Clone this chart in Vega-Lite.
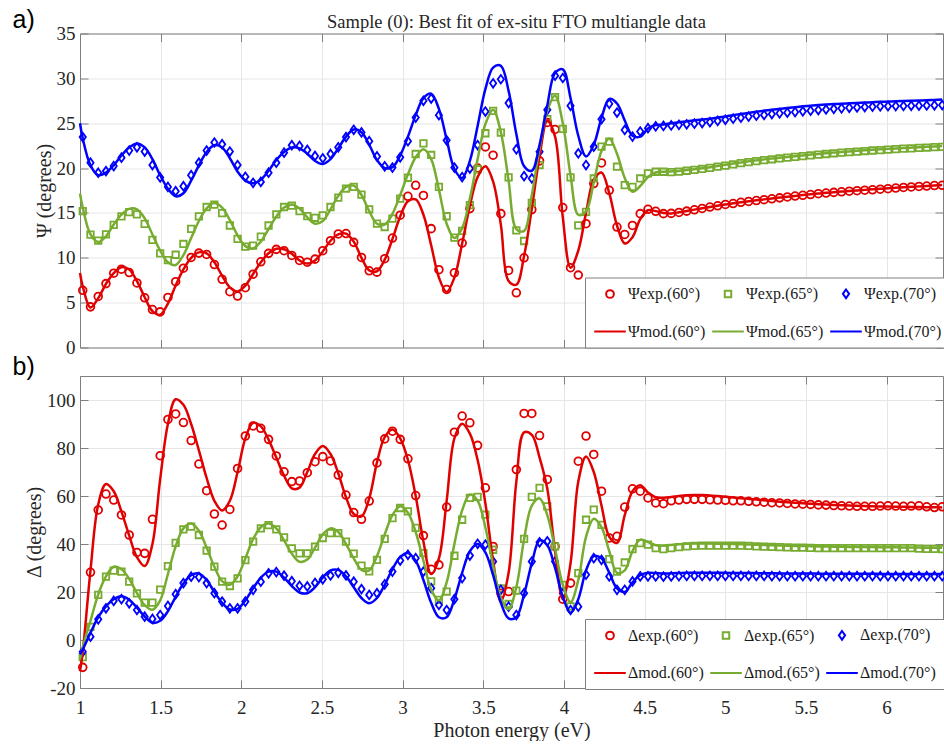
{
"$schema": "https://vega.github.io/schema/vega-lite/v6.json",
"autosize": {"type": "pad"},
"padding": {"left": 12, "top": 7.5, "right": 0, "bottom": 0},
"background": "white",
"datasets": {"d": [
{"E":1.0,"pm60":8.3,"pm65":17.15,"pm70":25.0,"dm60":-13,"dm65":-8,"dm70":-6},
{"E":1.017,"pe60":6.37,"pe65":15.21,"pe70":23.45,"pm60":6.8,"pm65":15.6,"pm70":23.3,"de60":-11.4,"de65":-7.1,"de70":-4.9,"dm60":-5,"dm65":-3,"dm70":-4},
{"E":1.065,"pe60":4.53,"pe65":12.58,"pe70":20.6,"pm60":4.45,"pm65":12.6,"pm70":20.3,"de60":28.2,"de65":5.5,"de70":1.4,"dm60":29,"dm65":8,"dm70":3},
{"E":1.113,"pe60":5.69,"pe65":11.91,"pe70":19.48,"pm60":5.5,"pm65":11.75,"pm70":19.2,"de60":54.2,"de65":18.8,"de70":8.6,"dm60":56.5,"dm65":19,"dm70":9.5},
{"E":1.161,"pe60":7.12,"pe65":12.62,"pe70":19.66,"pm60":7.1,"pm65":12.4,"pm70":19.5,"de60":60.8,"de65":26.4,"de70":13.2,"dm60":65,"dm65":26.5,"dm70":14},
{"E":1.209,"pe60":8.28,"pe65":13.67,"pe70":20.22,"pm60":8.3,"pm65":13.7,"pm70":20.3,"de60":58.3,"de65":28.9,"de70":16.3,"dm60":62,"dm65":30.5,"dm70":17},
{"E":1.257,"pe60":8.73,"pe65":14.61,"pe70":21.16,"pm60":8.95,"pm65":14.8,"pm70":21.4,"de60":52.1,"de65":28.5,"de70":17.0,"dm60":53.5,"dm65":29.5,"dm70":18.2},
{"E":1.305,"pe60":8.35,"pe65":15.09,"pe70":21.95,"pm60":8.7,"pm65":15.45,"pm70":22.3,"de60":43.75,"de65":24.3,"de70":15.3,"dm60":43.5,"dm65":25.5,"dm70":16.8},
{"E":1.353,"pe60":7.19,"pe65":14.83,"pe70":22.32,"pm60":7.4,"pm65":15.4,"pm70":22.75,"de60":36.5,"de65":19.4,"de70":12.5,"dm60":34.5,"dm65":19.5,"dm70":13.5},
{"E":1.401,"pe60":5.54,"pe65":13.78,"pe70":21.84,"pm60":5.6,"pm65":14.4,"pm70":22.3,"de60":36.1,"de65":15.6,"de70":9.7,"dm60":30.8,"dm65":14.5,"dm70":9.8},
{"E":1.449,"pe60":4.23,"pe65":11.99,"pe70":20.34,"pm60":4.05,"pm65":12.6,"pm70":21.0,"de60":50.3,"de65":15.6,"de70":8.8,"dm60":40,"dm65":12.6,"dm70":7.2},
{"E":1.497,"pe60":3.97,"pe65":10.49,"pe70":18.95,"pm60":3.65,"pm65":10.8,"pm70":19.2,"de60":76.8,"de65":21.0,"de70":10.4,"dm60":67,"dm65":16.5,"dm70":8},
{"E":1.545,"pe60":5.58,"pe65":9.74,"pe70":17.9,"pm60":4.9,"pm65":9.5,"pm70":17.7,"de60":91.9,"de65":30.8,"de70":14.2,"dm60":90,"dm65":27.5,"dm70":12},
{"E":1.593,"pe60":7.34,"pe65":10.34,"pe70":17.42,"pm60":6.9,"pm65":9.2,"pm70":16.85,"de60":94.2,"de65":40.5,"de70":19.1,"dm60":100.3,"dm65":39,"dm70":18},
{"E":1.641,"pe60":8.84,"pe65":11.54,"pe70":17.98,"pm60":8.7,"pm65":10.3,"pm70":17.2,"de60":90.6,"de65":46.1,"de70":23.7,"dm60":98,"dm65":46.5,"dm70":23.5},
{"E":1.689,"pe60":10.04,"pe65":13.22,"pe70":19.21,"pm60":10.0,"pm65":12.2,"pm70":18.6,"de60":83.1,"de65":47.2,"de70":26.4,"dm60":90,"dm65":48.5,"dm70":27},
{"E":1.737,"pe60":10.52,"pe65":14.61,"pe70":20.6,"pm60":10.6,"pm65":14.1,"pm70":20.3,"de60":73.3,"de65":43.75,"de70":26.2,"dm60":79,"dm65":45.5,"dm70":27.7},
{"E":1.785,"pe60":10.37,"pe65":15.66,"pe70":21.95,"pm60":10.5,"pm65":15.5,"pm70":21.8,"de60":62.2,"de65":37.2,"de70":23.7,"dm60":67.5,"dm65":38.5,"dm70":25},
{"E":1.833,"pe60":9.25,"pe65":15.92,"pe70":22.85,"pm60":9.5,"pm65":16.1,"pm70":22.55,"de60":52.5,"de65":30.6,"de70":19.5,"dm60":58,"dm65":30.5,"dm70":20},
{"E":1.881,"pe60":7.6,"pe65":14.98,"pe70":22.66,"pm60":8.0,"pm65":15.6,"pm70":22.3,"de60":47.9,"de65":24.3,"de70":16.0,"dm60":54,"dm65":24.5,"dm70":15.5},
{"E":1.929,"pe60":6.22,"pe65":13.6,"pe70":21.84,"pm60":6.7,"pm65":14.2,"pm70":21.1,"de60":54.4,"de65":22.5,"de70":13.2,"dm60":58,"dm65":23,"dm70":12.7},
{"E":1.977,"pe60":5.73,"pe65":12.1,"pe70":20.34,"pm60":6.25,"pm65":12.5,"pm70":19.6,"de60":71.5,"de65":25.7,"de70":13.2,"dm60":70,"dm65":26.5,"dm70":13},
{"E":2.025,"pe60":6.67,"pe65":11.24,"pe70":19.03,"pm60":6.9,"pm65":11.3,"pm70":18.6,"de60":85.0,"de65":33.3,"de70":16.0,"dm60":84,"dm65":34,"dm70":16.5},
{"E":2.073,"pe60":8.17,"pe65":11.35,"pe70":18.35,"pm60":8.2,"pm65":11.05,"pm70":18.3,"de60":89.2,"de65":41.0,"de70":20.9,"dm60":90.5,"dm65":42,"dm70":21.5},
{"E":2.121,"pe60":9.55,"pe65":12.36,"pe70":18.46,"pm60":9.5,"pm65":11.8,"pm70":18.7,"de60":88.2,"de65":46.5,"de70":24.3,"dm60":89,"dm65":47,"dm70":26},
{"E":2.169,"pe60":10.49,"pe65":13.6,"pe70":19.48,"pm60":10.5,"pm65":13.2,"pm70":19.7,"de60":83.6,"de65":47.9,"de70":27.8,"dm60":83.5,"dm65":48.5,"dm70":28.5},
{"E":2.217,"pe60":10.94,"pe65":14.83,"pe70":20.6,"pm60":11.0,"pm65":14.6,"pm70":20.9,"de60":76.7,"de65":46.1,"de70":28.3,"dm60":76,"dm65":46.5,"dm70":28.5},
{"E":2.265,"pe60":10.79,"pe65":15.66,"pe70":21.72,"pm60":10.95,"pm65":15.6,"pm70":21.8,"de60":70.1,"de65":42.8,"de70":26.8,"dm60":68.5,"dm65":41.5,"dm70":26},
{"E":2.313,"pe60":10.26,"pe65":15.81,"pe70":22.55,"pm60":10.45,"pm65":15.95,"pm70":22.3,"de60":66.0,"de65":38.2,"de70":24.5,"dm60":63.2,"dm65":36,"dm70":22.5},
{"E":2.361,"pe60":9.7,"pe65":15.21,"pe70":22.47,"pm60":9.7,"pm65":15.5,"pm70":22.2,"de60":66.25,"de65":36.1,"de70":22.6,"dm60":63.5,"dm65":32.6,"dm70":19.8},
{"E":2.409,"pe60":9.51,"pe65":14.64,"pe70":22.02,"pm60":9.35,"pm65":14.5,"pm70":21.6,"de60":69.7,"de65":36.1,"de70":22.3,"dm60":70,"dm65":33.5,"dm70":19.5},
{"E":2.457,"pe60":9.85,"pe65":14.46,"pe70":21.35,"pm60":9.7,"pm65":13.8,"pm70":20.8,"de60":74.3,"de65":38.9,"de70":23.8,"dm60":77.5,"dm65":38.5,"dm70":22},
{"E":2.505,"pe60":10.79,"pe65":14.72,"pe70":21.09,"pm60":10.7,"pm65":14.1,"pm70":20.45,"de60":76.4,"de65":42.5,"de70":25.3,"dm60":80.8,"dm65":44,"dm70":26},
{"E":2.553,"pe60":11.91,"pe65":15.66,"pe70":21.57,"pm60":11.9,"pm65":15.4,"pm70":21.0,"de60":74.6,"de65":44.5,"de70":26.9,"dm60":77.5,"dm65":46.5,"dm70":29},
{"E":2.601,"pe60":12.66,"pe65":16.7,"pe70":22.32,"pm60":12.6,"pm65":16.9,"pm70":22.2,"de60":68.75,"de65":44.5,"de70":28.0,"dm60":69.5,"dm65":45,"dm70":29.2},
{"E":2.649,"pe60":12.7,"pe65":17.72,"pe70":23.45,"pm60":12.7,"pm65":17.9,"pm70":23.5,"de60":60.4,"de65":41.0,"de70":26.9,"dm60":59.5,"dm65":40,"dm70":26.5},
{"E":2.697,"pe60":11.72,"pe65":17.9,"pe70":24.27,"pm60":11.8,"pm65":18.05,"pm70":24.3,"de60":53.1,"de65":36.0,"de70":24.3,"dm60":52.5,"dm65":34,"dm70":22},
{"E":2.745,"pe60":10.04,"pe65":17.04,"pe70":23.97,"pm60":10.0,"pm65":17.0,"pm70":24.0,"de60":50.3,"de65":31.0,"de70":21.2,"dm60":51.5,"dm65":29.2,"dm70":17.5},
{"E":2.793,"pe60":8.55,"pe65":15.4,"pe70":23.0,"pm60":8.6,"pm65":15.2,"pm70":22.6,"de60":57.9,"de65":28.55,"de70":18.8,"dm60":59,"dm65":29,"dm70":15.3},
{"E":2.841,"pe60":8.4,"pe65":13.81,"pe70":21.3,"pm60":8.5,"pm65":13.8,"pm70":20.9,"de60":73.8,"de65":33.4,"de70":19.5,"dm60":74,"dm65":35,"dm70":17.5},
{"E":2.889,"pe60":9.9,"pe65":13.43,"pe70":20.2,"pm60":9.8,"pm65":13.7,"pm70":20.0,"de60":83.8,"de65":42.1,"de70":23.2,"dm60":84.5,"dm65":44,"dm70":23},
{"E":2.937,"pe60":12.2,"pe65":14.37,"pe70":20.05,"pm60":12.1,"pm65":14.9,"pm70":20.1,"de60":87.0,"de65":50.8,"de70":28.5,"dm60":87.7,"dm65":52,"dm70":29.5},
{"E":2.985,"pe60":14.75,"pe65":16.6,"pe70":21.2,"pm60":14.6,"pm65":17.0,"pm70":21.4,"de60":83.6,"de65":55.0,"de70":33.1,"dm60":84,"dm65":55.7,"dm70":34.5},
{"E":3.033,"pe60":16.85,"pe65":18.92,"pe70":23.0,"pm60":16.3,"pm65":19.3,"pm70":23.5,"de60":75.5,"de65":53.6,"de70":35.5,"dm60":75,"dm65":53,"dm70":36.2},
{"E":3.081,"pe60":18.08,"pe65":21.57,"pe70":25.63,"pm60":16.5,"pm65":21.2,"pm70":25.9,"de60":60.2,"de65":46.7,"de70":34.1,"dm60":60,"dm65":45,"dm70":33},
{"E":3.129,"pe60":16.95,"pe65":22.76,"pe70":27.5,"pm60":14.8,"pm65":22.1,"pm70":27.8,"de60":43.5,"de65":36.2,"de70":28.5,"dm60":41,"dm65":33,"dm70":25},
{"E":3.177,"pe60":13.25,"pe65":21.46,"pe70":27.75,"pm60":11.4,"pm65":21.0,"pm70":28.3,"de60":29.5,"de65":24.4,"de70":21.6,"dm60":27.5,"dm65":21,"dm70":15.5},
{"E":3.225,"pe60":8.67,"pe65":17.91,"pe70":25.9,"pm60":7.8,"pm65":17.6,"pm70":26.6,"de60":31.3,"de65":16.7,"de70":14.6,"dm60":34,"dm65":16.5,"dm70":9.5},
{"E":3.273,"pe60":6.47,"pe65":14.63,"pe70":23.1,"pm60":6.2,"pm65":13.8,"pm70":23.2,"de60":55.4,"de65":20.2,"de70":12.5,"dm60":58,"dm65":24,"dm70":9.5},
{"E":3.321,"pe60":8.33,"pe65":12.24,"pe70":20.05,"pm60":7.8,"pm65":12.2,"pm70":19.9,"de60":86.6,"de65":35.1,"de70":17.0,"dm60":84,"dm65":40,"dm70":17},
{"E":3.369,"pe60":11.64,"pe65":12.99,"pe70":19.0,"pm60":11.6,"pm65":13.3,"pm70":18.9,"de60":93.3,"de65":50.1,"de70":25.8,"dm60":90.1,"dm65":54,"dm70":28},
{"E":3.417,"pe60":15.48,"pe65":15.86,"pe70":19.95,"pm60":15.8,"pm65":16.6,"pm70":20.8,"de60":90.5,"de65":59.2,"de70":35.2,"dm60":86,"dm65":60.6,"dm70":37},
{"E":3.465,"pe60":20.0,"pe65":19.85,"pe70":22.57,"pm60":19.0,"pm65":21.0,"pm70":24.7,"de60":81.1,"de65":59.6,"de70":40.1,"dm60":75,"dm65":58,"dm70":40},
{"E":3.513,"pe60":22.36,"pe65":23.88,"pe70":26.3,"pm60":20.2,"pm65":24.9,"pm70":28.8,"de60":63.4,"de65":52.2,"de70":39.7,"dm60":57,"dm65":47,"dm70":36.5},
{"E":3.561,"pe60":21.43,"pe65":26.38,"pe70":29.45,"pm60":18.5,"pm65":26.5,"pm70":31.2,"de60":39.0,"de65":37.6,"de70":32.7,"dm60":33,"dm65":31,"dm70":27},
{"E":3.609,"pe60":14.92,"pe65":23.96,"pe70":29.9,"pm60":13.7,"pm65":24.0,"pm70":31.4,"de60":19.5,"de65":21.5,"de70":20.9,"dm60":16,"dm65":17.5,"dm70":15.5},
{"E":3.657,"pe60":8.59,"pe65":18.96,"pe70":27.24,"pm60":7.4,"pm65":18.6,"pm70":28.6,"de60":20.2,"de65":15.0,"de70":13.9,"dm60":28,"dm65":12.8,"dm70":9},
{"E":3.705,"pe60":6.1,"pe65":13.06,"pe70":22.09,"pm60":7.0,"pm65":13.2,"pm70":23.8,"de60":71.0,"de65":20.6,"de70":10.4,"dm60":66,"dm65":22,"dm70":9.5},
{"E":3.753,"pe60":10.0,"pe65":11.87,"pe70":19.1,"pm60":10.2,"pm65":13.0,"pm70":20.2,"de60":94.4,"de65":42.1,"de70":19.5,"dm60":86.5,"dm65":42,"dm70":19},
{"E":3.801,"pe60":15.37,"pe65":16.12,"pe70":18.84,"pm60":15.5,"pm65":17.0,"pm70":19.7,"de60":94.4,"de65":59.6,"de70":32.7,"dm60":85.5,"dm65":56,"dm70":32},
{"E":3.849,"pe60":20.8,"pe65":20.34,"pe70":21.83,"pm60":21.3,"pm65":22.2,"pm70":22.6,"de60":85.2,"de65":63.4,"de70":40.7,"dm60":76,"dm65":59,"dm70":41.5},
{"E":3.897,"pe60":25.08,"pe65":25.45,"pe70":26.5,"pm60":25.3,"pm65":26.4,"pm70":27.0,"de60":66.9,"de65":55.7,"de70":41.1,"dm60":63,"dm65":52,"dm70":39.5},
{"E":3.945,"pe60":24.3,"pe65":27.91,"pe70":30.3,"pm60":23.5,"pm65":28.05,"pm70":30.6,"de60":39.0,"de65":39.0,"de70":32.7,"dm60":37,"dm65":38,"dm70":30},
{"E":3.993,"pe60":15.6,"pe65":24.37,"pe70":30.04,"pm60":14.5,"pm65":25.0,"pm70":31.0,"de60":17.0,"de65":23.0,"de70":19.5,"dm60":17,"dm65":23,"dm70":18},
{"E":4.041,"pe60":8.9,"pe65":18.96,"pe70":26.94,"pm60":8.9,"pm65":19.2,"pm70":27.8,"de60":23.7,"de65":14.0,"de70":12.5,"dm60":32,"dm65":15.8,"dm70":11.4},
{"E":4.089,"pe60":8.07,"pe65":13.62,"pe70":21.64,"pm60":10.8,"pm65":14.8,"pm70":23.6,"de60":74.5,"de65":27.9,"de70":13.9,"dm60":66,"dm65":25,"dm70":17},
{"E":4.137,"pe60":13.8,"pe65":15.11,"pe70":20.34,"pm60":15.0,"pm65":15.2,"pm70":21.3,"de60":85.0,"de65":50.1,"de70":27.2,"dm60":76.5,"dm65":43,"dm70":29},
{"E":4.185,"pe60":18.27,"pe65":18.84,"pe70":22.39,"pm60":18.7,"pm65":18.4,"pm70":22.6,"de60":77.3,"de65":54.3,"de70":34.1,"dm60":70,"dm65":50.5,"dm70":35},
{"E":4.233,"pe60":20.57,"pe65":22.39,"pe70":25.45,"pm60":19.5,"pm65":21.9,"pm70":25.6,"de60":62.0,"de65":48.0,"de70":33.4,"dm60":56,"dm65":47,"dm70":34},
{"E":4.281,"pe60":17.52,"pe65":22.95,"pe70":27.16,"pm60":17.2,"pm65":23.3,"pm70":27.7,"de60":42.5,"de65":33.7,"de70":26.5,"dm60":43,"dm65":37,"dm70":28},
{"E":4.329,"pe60":13.43,"pe65":20.15,"pe70":26.19,"pm60":13.6,"pm65":21.6,"pm70":27.2,"de60":43.2,"de65":28.5,"de70":20.9,"dm60":40.5,"dm65":28,"dm70":21.5},
{"E":4.377,"pe60":12.6,"pe65":18.1,"pe70":24.25,"pm60":11.6,"pm65":18.9,"pm70":25.3,"de60":55.4,"de65":32.3,"de70":20.9,"dm60":52,"dm65":29,"dm70":20},
{"E":4.425,"pe60":13.6,"pe65":17.91,"pe70":23.51,"pm60":12.3,"pm65":17.35,"pm70":23.6,"de60":63.0,"de65":37.9,"de70":24.4,"dm60":62,"dm65":37,"dm70":24},
{"E":4.473,"pe60":14.92,"pe65":18.84,"pe70":24.07,"pm60":14.3,"pm65":18.0,"pm70":23.5,"de60":62.0,"de65":40.4,"de70":26.5,"dm60":64.5,"dm65":41.8,"dm70":27},
{"E":4.521,"pe60":15.4,"pe65":19.4,"pe70":24.45,"pm60":15.3,"pm65":19.0,"pm70":24.4,"de60":59.2,"de65":39.7,"de70":26.5,"dm60":61.5,"dm65":40.8,"dm70":28},
{"E":4.569,"pe60":15.18,"pe65":19.59,"pe70":24.65,"pm60":15.2,"pm65":19.5,"pm70":24.8,"de60":57.1,"de65":38.3,"de70":26.5,"dm60":59.5,"dm65":39.5,"dm70":27.9},
{"E":4.617,"pe60":14.92,"pe65":19.59,"pe70":24.7,"pm60":15.0,"pm65":19.6,"pm70":24.85,"de60":56.8,"de65":37.9,"de70":26.4,"dm60":59.3,"dm65":39.4,"dm70":27.7},
{"E":4.665,"pe60":14.95,"pe65":19.55,"pe70":24.75,"pm60":14.95,"pm65":19.63,"pm70":25.0,"de60":58.0,"de65":38.3,"de70":26.5,"dm60":59.6,"dm65":39.6,"dm70":27.8},
{"E":4.713,"pe60":15.05,"pe65":19.6,"pe70":24.82,"pm60":15.07,"pm65":19.68,"pm70":25.1,"de60":58.3,"de65":38.7,"de70":26.6,"dm60":60.0,"dm65":39.9,"dm70":27.9},
{"E":4.761,"pe60":15.2,"pe65":19.7,"pe70":24.88,"pm60":15.22,"pm65":19.78,"pm70":25.22,"de60":58.6,"de65":39.0,"de70":26.7,"dm60":60.3,"dm65":40.1,"dm70":28.0},
{"E":4.809,"pe60":15.35,"pe65":19.8,"pe70":24.95,"pm60":15.37,"pm65":19.88,"pm70":25.33,"de60":58.6,"de65":39.2,"de70":26.7,"dm60":60.4,"dm65":40.2,"dm70":28.0},
{"E":4.857,"pe60":15.5,"pe65":19.9,"pe70":25.02,"pm60":15.52,"pm65":19.98,"pm70":25.42,"de60":58.6,"de65":39.3,"de70":26.7,"dm60":60.4,"dm65":40.2,"dm70":28.0},
{"E":4.905,"pe60":15.65,"pe65":20.02,"pe70":25.12,"pm60":15.67,"pm65":20.1,"pm70":25.5,"de60":58.4,"de65":39.3,"de70":26.7,"dm60":60.2,"dm65":40.2,"dm70":28.0},
{"E":4.953,"pe60":15.8,"pe65":20.15,"pe70":25.25,"pm60":15.81,"pm65":20.23,"pm70":25.63,"de60":58.3,"de65":39.3,"de70":26.7,"dm60":60.0,"dm65":40.1,"dm70":28.0},
{"E":5.001,"pe60":15.95,"pe65":20.28,"pe70":25.38,"pm60":15.95,"pm65":20.36,"pm70":25.76,"de60":58.2,"de65":39.3,"de70":26.7,"dm60":59.7,"dm65":40.0,"dm70":28.0},
{"E":5.049,"pe60":16.05,"pe65":20.42,"pe70":25.5,"pm60":16.07,"pm65":20.5,"pm70":25.9,"de60":58.0,"de65":39.3,"de70":26.7,"dm60":59.4,"dm65":40.0,"dm70":27.95},
{"E":5.097,"pe60":16.18,"pe65":20.55,"pe70":25.62,"pm60":16.19,"pm65":20.63,"pm70":26.03,"de60":58.0,"de65":39.3,"de70":26.7,"dm60":59.1,"dm65":39.9,"dm70":27.9},
{"E":5.145,"pe60":16.28,"pe65":20.67,"pe70":25.74,"pm60":16.3,"pm65":20.75,"pm70":26.15,"de60":57.8,"de65":39.2,"de70":26.7,"dm60":58.8,"dm65":39.8,"dm70":27.9},
{"E":5.193,"pe60":16.38,"pe65":20.78,"pe70":25.84,"pm60":16.41,"pm65":20.86,"pm70":26.27,"de60":57.6,"de65":39.0,"de70":26.7,"dm60":58.5,"dm65":39.7,"dm70":27.85},
{"E":5.241,"pe60":16.48,"pe65":20.89,"pe70":25.92,"pm60":16.51,"pm65":20.97,"pm70":26.38,"de60":57.4,"de65":38.9,"de70":26.7,"dm60":58.2,"dm65":39.6,"dm70":27.8},
{"E":5.289,"pe60":16.58,"pe65":20.98,"pe70":26.02,"pm60":16.61,"pm65":21.06,"pm70":26.5,"de60":57.2,"de65":38.8,"de70":26.6,"dm60":57.9,"dm65":39.5,"dm70":27.8},
{"E":5.337,"pe60":16.68,"pe65":21.07,"pe70":26.1,"pm60":16.71,"pm65":21.15,"pm70":26.6,"de60":57.1,"de65":38.7,"de70":26.6,"dm60":57.6,"dm65":39.4,"dm70":27.75},
{"E":5.385,"pe60":16.78,"pe65":21.16,"pe70":26.18,"pm60":16.81,"pm65":21.24,"pm70":26.7,"de60":56.9,"de65":38.6,"de70":26.6,"dm60":57.4,"dm65":39.3,"dm70":27.75},
{"E":5.433,"pe60":16.88,"pe65":21.25,"pe70":26.24,"pm60":16.9,"pm65":21.33,"pm70":26.79,"de60":56.7,"de65":38.5,"de70":26.6,"dm60":57.2,"dm65":39.2,"dm70":27.7},
{"E":5.481,"pe60":16.97,"pe65":21.33,"pe70":26.32,"pm60":16.99,"pm65":21.41,"pm70":26.88,"de60":56.6,"de65":38.5,"de70":26.6,"dm60":57.0,"dm65":39.2,"dm70":27.7},
{"E":5.529,"pe60":17.05,"pe65":21.42,"pe70":26.4,"pm60":17.08,"pm65":21.5,"pm70":26.96,"de60":56.5,"de65":38.4,"de70":26.6,"dm60":56.8,"dm65":39.1,"dm70":27.7},
{"E":5.577,"pe60":17.14,"pe65":21.5,"pe70":26.47,"pm60":17.16,"pm65":21.58,"pm70":27.02,"de60":56.3,"de65":38.3,"de70":26.6,"dm60":56.6,"dm65":39.0,"dm70":27.65},
{"E":5.625,"pe60":17.22,"pe65":21.57,"pe70":26.53,"pm60":17.24,"pm65":21.65,"pm70":27.08,"de60":56.2,"de65":38.3,"de70":26.6,"dm60":56.45,"dm65":39.0,"dm70":27.65},
{"E":5.673,"pe60":17.29,"pe65":21.65,"pe70":26.6,"pm60":17.31,"pm65":21.73,"pm70":27.13,"de60":56.0,"de65":38.3,"de70":26.6,"dm60":56.3,"dm65":38.9,"dm70":27.65},
{"E":5.721,"pe60":17.35,"pe65":21.72,"pe70":26.66,"pm60":17.38,"pm65":21.8,"pm70":27.18,"de60":55.9,"de65":38.3,"de70":26.6,"dm60":56.15,"dm65":38.9,"dm70":27.6},
{"E":5.769,"pe60":17.42,"pe65":21.78,"pe70":26.72,"pm60":17.45,"pm65":21.86,"pm70":27.22,"de60":55.8,"de65":38.3,"de70":26.6,"dm60":56.0,"dm65":38.8,"dm70":27.6},
{"E":5.817,"pe60":17.48,"pe65":21.84,"pe70":26.76,"pm60":17.51,"pm65":21.92,"pm70":27.26,"de60":55.7,"de65":38.3,"de70":26.6,"dm60":55.9,"dm65":38.8,"dm70":27.6},
{"E":5.865,"pe60":17.53,"pe65":21.9,"pe70":26.8,"pm60":17.57,"pm65":21.98,"pm70":27.3,"de60":55.7,"de65":38.3,"de70":26.6,"dm60":55.8,"dm65":38.7,"dm70":27.6},
{"E":5.913,"pe60":17.58,"pe65":21.96,"pe70":26.84,"pm60":17.63,"pm65":22.04,"pm70":27.34,"de60":55.7,"de65":38.3,"de70":26.6,"dm60":55.7,"dm65":38.7,"dm70":27.6},
{"E":5.961,"pe60":17.64,"pe65":22.01,"pe70":26.88,"pm60":17.69,"pm65":22.09,"pm70":27.38,"de60":55.8,"de65":38.3,"de70":26.6,"dm60":55.65,"dm65":38.6,"dm70":27.55},
{"E":6.009,"pe60":17.7,"pe65":22.06,"pe70":26.9,"pm60":17.74,"pm65":22.14,"pm70":27.41,"de60":55.9,"de65":38.3,"de70":26.6,"dm60":55.6,"dm65":38.6,"dm70":27.55},
{"E":6.057,"pe60":17.77,"pe65":22.11,"pe70":26.91,"pm60":17.8,"pm65":22.19,"pm70":27.44,"de60":55.8,"de65":38.3,"de70":26.6,"dm60":55.55,"dm65":38.6,"dm70":27.55},
{"E":6.105,"pe60":17.84,"pe65":22.16,"pe70":26.92,"pm60":17.86,"pm65":22.24,"pm70":27.47,"de60":55.7,"de65":38.3,"de70":26.6,"dm60":55.5,"dm65":38.5,"dm70":27.55},
{"E":6.153,"pe60":17.9,"pe65":22.2,"pe70":26.94,"pm60":17.91,"pm65":22.28,"pm70":27.5,"de60":55.8,"de65":38.3,"de70":26.6,"dm60":55.45,"dm65":38.5,"dm70":27.5},
{"E":6.201,"pe60":17.95,"pe65":22.25,"pe70":26.96,"pm60":17.96,"pm65":22.33,"pm70":27.53,"de60":55.9,"de65":38.1,"de70":26.6,"dm60":55.4,"dm65":38.5,"dm70":27.5},
{"E":6.249,"pe60":18.0,"pe65":22.29,"pe70":26.98,"pm60":18.01,"pm65":22.37,"pm70":27.56,"de60":55.5,"de65":38.0,"de70":26.6,"dm60":55.35,"dm65":38.4,"dm70":27.5},
{"E":6.297,"pe60":18.05,"pe65":22.33,"pe70":27.0,"pm60":18.06,"pm65":22.41,"pm70":27.6,"de60":55.2,"de65":38.0,"de70":26.6,"dm60":55.3,"dm65":38.4,"dm70":27.5},
{"E":6.345,"pe60":18.08,"pe65":22.37,"pe70":27.02,"pm60":18.1,"pm65":22.45,"pm70":27.64,"de60":55.5,"de65":37.9,"de70":26.6,"dm60":55.25,"dm65":38.4,"dm70":27.5}
]},
"vconcat": [
{
"width": 863, "height": 314,
"layer": [
{
"data": {"name": "d"},
"transform": [{"fold": ["pe60","pe65","pe70"], "as": ["s","v"]}],
"mark": {"type": "point", "filled": false, "strokeWidth": 1.8, "opacity": 1},
"encoding": {
"x": {"field": "E", "type": "quantitative", "scale": {"domain": [1, 6.35], "nice": false, "zero": false},
 "axis": {"orient": "bottom", "values": [1,1.5,2,2.5,3,3.5,4,4.5,5,5.5,6], "labels": false, "title": null, "grid": true}},
"y": {"field": "v", "type": "quantitative", "scale": {"domain": [0, 35], "nice": false, "zero": false},
 "axis": {"orient": "left", "values": [0,5,10,15,20,25,30,35], "title": "Ψ (degrees)", "grid": true, "labelPadding": 13, "titlePadding": 2, "labelFont": "Liberation Serif", "labelFontSize": 19, "labelColor": "#262626"}},
"color": {"field": "s", "type": "nominal", "scale": {"domain": ["pe60","pe65","pe70","pm60","pm65","pm70"], "range": ["#e00000","#77ac30","#0000ff","#e00000","#77ac30","#0000ff"]},
 "legend": {"orient": "none", "legendX": 505, "legendY": 244, "title": null, "columns": 3, "direction": "horizontal", "labelExpr": "(substring(datum.value,1,2)=='e' ? 'Ψexp.' : 'Ψmod.') + '(' + substring(datum.value,2) + '°)'"}},
"shape": {"field": "s", "type": "nominal", "scale": {"domain": ["pe60","pe65","pe70","pm60","pm65","pm70"], "range": ["circle","square","M0,-1L0.72,0L0,1L-0.72,0Z","stroke","stroke","stroke"]},
 "legend": {"orient": "none", "legendX": 505, "legendY": 244, "title": null, "columns": 3, "direction": "horizontal", "labelExpr": "(substring(datum.value,1,2)=='e' ? 'Ψexp.' : 'Ψmod.') + '(' + substring(datum.value,2) + '°)'"}},
"size": {"field": "s", "type": "nominal", "scale": {"type": "ordinal", "domain": ["pe60","pe65","pe70","pm60","pm65","pm70"], "range": [60,42,75,1000,1000,1000]},
 "legend": {"orient": "none", "legendX": 505, "legendY": 244, "title": null, "columns": 3, "direction": "horizontal", "labelExpr": "(substring(datum.value,1,2)=='e' ? 'Ψexp.' : 'Ψmod.') + '(' + substring(datum.value,2) + '°)'"}}
}
},
{
"data": {"name": "d"},
"transform": [{"fold": ["pm60","pm65","pm70"], "as": ["s","v"]}],
"mark": {"type": "line", "strokeWidth": 2.5, "interpolate": "catmull-rom"},
"encoding": {
"x": {"field": "E", "type": "quantitative", "scale": {"domain": [1, 6.35], "nice": false, "zero": false},
 "axis": {"orient": "top", "values": [1,1.5,2,2.5,3,3.5,4,4.5,5,5.5,6], "labels": false, "grid": false, "title": "Sample (0): Best fit of ex-situ FTO multiangle data", "titleX": 436, "titleY": -6, "titleAngle": 0, "titleAlign": "center", "titleBaseline": "alphabetic", "titleFontSize": 18.5}},
"y": {"field": "v", "type": "quantitative", "scale": {"domain": [0, 35], "nice": false, "zero": false},
 "axis": {"orient": "right", "values": [0,5,10,15,20,25,30,35], "labels": false, "grid": false, "title": "a)", "titleX": -931, "titleY": -6, "titleAngle": 0, "titleAlign": "left", "titleBaseline": "alphabetic", "titleFont": "Liberation Sans", "titleFontSize": 25, "titleColor": "#000000"}},
"color": {"field": "s", "type": "nominal", "scale": {"domain": ["pe60","pe65","pe70","pm60","pm65","pm70"], "range": ["#e00000","#77ac30","#0000ff","#e00000","#77ac30","#0000ff"]},
 "legend": {"orient": "none", "legendX": 505, "legendY": 244, "title": null, "columns": 3, "direction": "horizontal", "labelExpr": "(substring(datum.value,1,2)=='e' ? 'Ψexp.' : 'Ψmod.') + '(' + substring(datum.value,2) + '°)'"}}
}
}
],
"resolve": {"axis": {"x": "independent", "y": "independent"}}
},
{
"width": 863, "height": 312,
"layer": [
{
"data": {"name": "d"},
"transform": [{"fold": ["de60","de65","de70"], "as": ["s","v"]}],
"mark": {"type": "point", "filled": false, "strokeWidth": 1.8, "opacity": 1},
"encoding": {
"x": {"field": "E", "type": "quantitative", "scale": {"domain": [1, 6.35], "nice": false, "zero": false},
 "axis": {"orient": "bottom", "values": [1,1.5,2,2.5,3,3.5,4,4.5,5,5.5,6], "format": "~g", "title": "Photon energy (eV)", "grid": true, "labelPadding": 18, "titlePadding": 3, "labelFont": "Liberation Serif", "labelFontSize": 19, "labelColor": "#262626"}},
"y": {"field": "v", "type": "quantitative", "scale": {"domain": [-20, 110], "nice": false, "zero": false},
 "axis": {"orient": "left", "values": [-20,0,20,40,60,80,100], "labelExpr": "'' + datum.value", "title": "Δ (degrees)", "grid": true, "labelPadding": 13, "titlePadding": 2, "labelFont": "Liberation Serif", "labelFontSize": 19, "labelColor": "#262626"}},
"color": {"field": "s", "type": "nominal", "scale": {"domain": ["de60","de65","de70","dm60","dm65","dm70"], "range": ["#e00000","#77ac30","#0000ff","#e00000","#77ac30","#0000ff"]},
 "legend": {"orient": "none", "legendX": 505, "legendY": 243, "title": null, "columns": 3, "direction": "horizontal", "labelExpr": "(substring(datum.value,1,2)=='e' ? 'Δexp.' : 'Δmod.') + '(' + substring(datum.value,2) + '°)'"}},
"shape": {"field": "s", "type": "nominal", "scale": {"domain": ["de60","de65","de70","dm60","dm65","dm70"], "range": ["circle","square","M0,-1L0.72,0L0,1L-0.72,0Z","stroke","stroke","stroke"]},
 "legend": {"orient": "none", "legendX": 505, "legendY": 243, "title": null, "columns": 3, "direction": "horizontal", "labelExpr": "(substring(datum.value,1,2)=='e' ? 'Δexp.' : 'Δmod.') + '(' + substring(datum.value,2) + '°)'"}},
"size": {"field": "s", "type": "nominal", "scale": {"type": "ordinal", "domain": ["de60","de65","de70","dm60","dm65","dm70"], "range": [60,42,75,1000,1000,1000]},
 "legend": {"orient": "none", "legendX": 505, "legendY": 243, "title": null, "columns": 3, "direction": "horizontal", "labelExpr": "(substring(datum.value,1,2)=='e' ? 'Δexp.' : 'Δmod.') + '(' + substring(datum.value,2) + '°)'"}}
}
},
{
"data": {"name": "d"},
"transform": [{"fold": ["dm60","dm65","dm70"], "as": ["s","v"]}],
"mark": {"type": "line", "strokeWidth": 2.5, "interpolate": "catmull-rom"},
"encoding": {
"x": {"field": "E", "type": "quantitative", "scale": {"domain": [1, 6.35], "nice": false, "zero": false},
 "axis": {"orient": "top", "values": [1,1.5,2,2.5,3,3.5,4,4.5,5,5.5,6], "labels": false, "grid": false, "title": null}},
"y": {"field": "v", "type": "quantitative", "scale": {"domain": [-20, 110], "nice": false, "zero": false},
 "axis": {"orient": "right", "values": [-20,0,20,40,60,80,100], "labels": false, "grid": false, "title": "b)", "titleX": -931, "titleY": -2, "titleAngle": 0, "titleAlign": "left", "titleBaseline": "alphabetic", "titleFont": "Liberation Sans", "titleFontSize": 25, "titleColor": "#000000"}},
"color": {"field": "s", "type": "nominal", "scale": {"domain": ["de60","de65","de70","dm60","dm65","dm70"], "range": ["#e00000","#77ac30","#0000ff","#e00000","#77ac30","#0000ff"]},
 "legend": {"orient": "none", "legendX": 505, "legendY": 243, "title": null, "columns": 3, "direction": "horizontal", "labelExpr": "(substring(datum.value,1,2)=='e' ? 'Δexp.' : 'Δmod.') + '(' + substring(datum.value,2) + '°)'"}}
}
}
],
"resolve": {"axis": {"x": "independent", "y": "independent"}}
}
],
"spacing": 28.5,
"bounds": "flush",
"resolve": {"scale": {"color": "independent", "shape": "independent", "size": "independent", "x": "independent", "y": "independent"}, "legend": {"color": "independent", "shape": "independent", "size": "independent"}},
"config": {
"view": {"stroke": null},
"font": "Liberation Serif",
"style": {"guide-label": {"font": "Liberation Serif"}, "guide-title": {"font": "Liberation Serif"}},
"axis": {"labelFont": "Liberation Serif", "labelFontSize": 19, "labelColor": "#262626", "titleFont": "Liberation Serif", "titleFontSize": 20, "titleFontWeight": "normal", "titleColor": "#262626", "domainColor": "#7f7f7f", "tickColor": "#7f7f7f", "gridColor": "#e6e6e6", "tickSize": -8, "labelFlush": false, "labelOverlap": false, "labelBound": false},
"legend": {"fillColor": "#ffffff", "strokeColor": "#808080", "padding": 8, "rowPadding": 12, "columnPadding": 2, "labelOffset": 1, "labelFont": "Liberation Serif", "labelFontSize": 16, "labelColor": "#1a1a1a", "labelLimit": 300, "symbolStrokeWidth": 2}
}
}
